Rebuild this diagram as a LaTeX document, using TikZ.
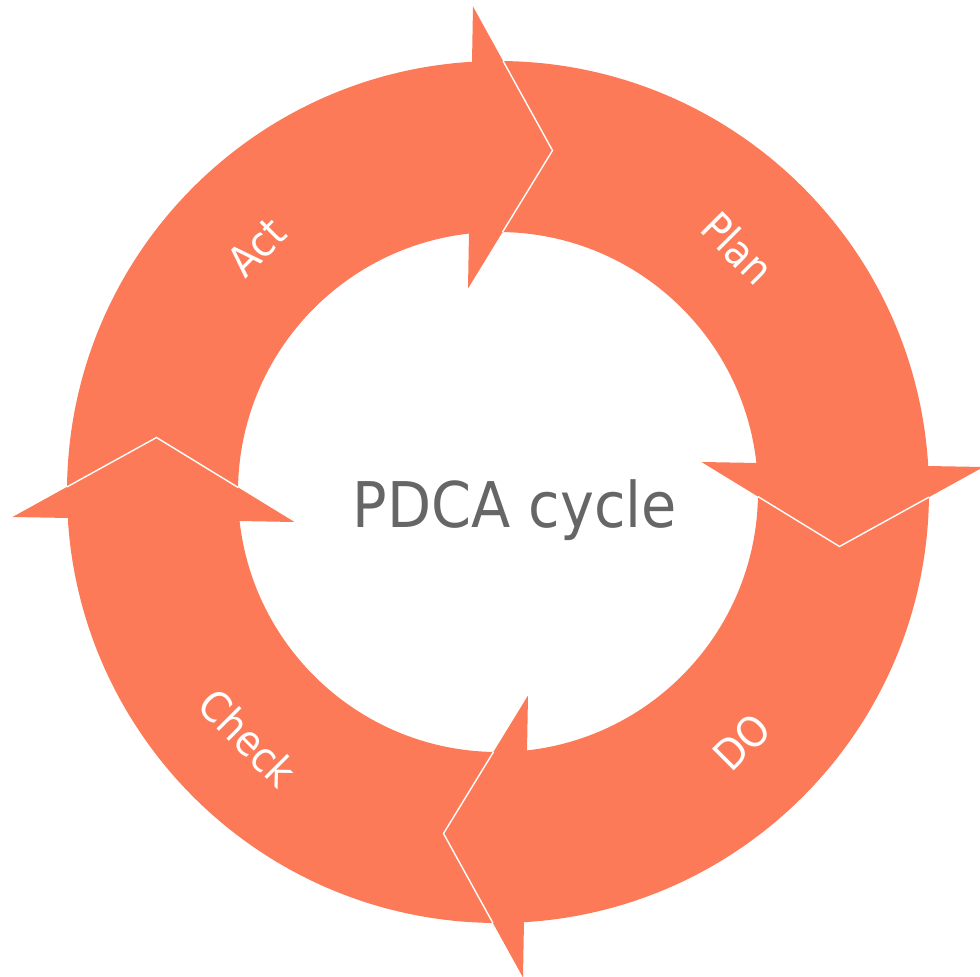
\documentclass[tikz,border=0pt]{standalone}
\usepackage{fontspec}
\newfontfamily\diagfont[FakeStretch=0.91]{DejaVu Sans}
\definecolor{ringorange}{RGB}{252,122,88}
\definecolor{titlegrey}{RGB}{102,102,102}
\tikzset{
  headedge/.style={draw=white, line width=1.4pt, line join=miter},
  seglabel/.style={text=white, font=\diagfont\fontsize{42}{42}\selectfont, inner sep=0pt},
  titletext/.style={text=titlegrey, font=\diagfont\fontsize{63}{63}\selectfont, inner sep=0pt}
}
\begin{document}
\begin{tikzpicture}[x=1pt,y=1pt]
\useasboundingbox (-498,-485) rectangle (482,492);
\clip (-498,-485) rectangle (482,492);
\coordinate (c) at (0,0);
% ring
\fill[ringorange, even odd rule] (c) circle[radius=431] (c) circle[radius=260];
% arrow heads
\foreach \k in {0,1,2,3}{
  \begin{scope}[rotate=-90*\k]
    \coordinate (bo) at (-25,485.5);
    \coordinate (tip) at (54.5,341.5);
    \coordinate (bi) at (-30,203.5);
    \coordinate (oc) at (5.1,431);
    \coordinate (ic) at (4.6,260);
    \fill[ringorange] (bo) -- (tip) -- (bi) -- cycle;
    \draw[headedge] (oc) -- (tip) -- (ic);
  \end{scope}
}
% texts
\node[titletext, anchor=base] (title) at (17,-36) {PDCA cycle};
\node[seglabel, rotate=-45] (plan) at (240,244) {Plan};
\node[seglabel, rotate=45] (do) at (244,-250) {DO};
\node[seglabel, rotate=-45] (check) at (-250,-246) {Check};
\node[seglabel, rotate=45] (act) at (-241,245) {Act};
\end{tikzpicture}
\end{document}
